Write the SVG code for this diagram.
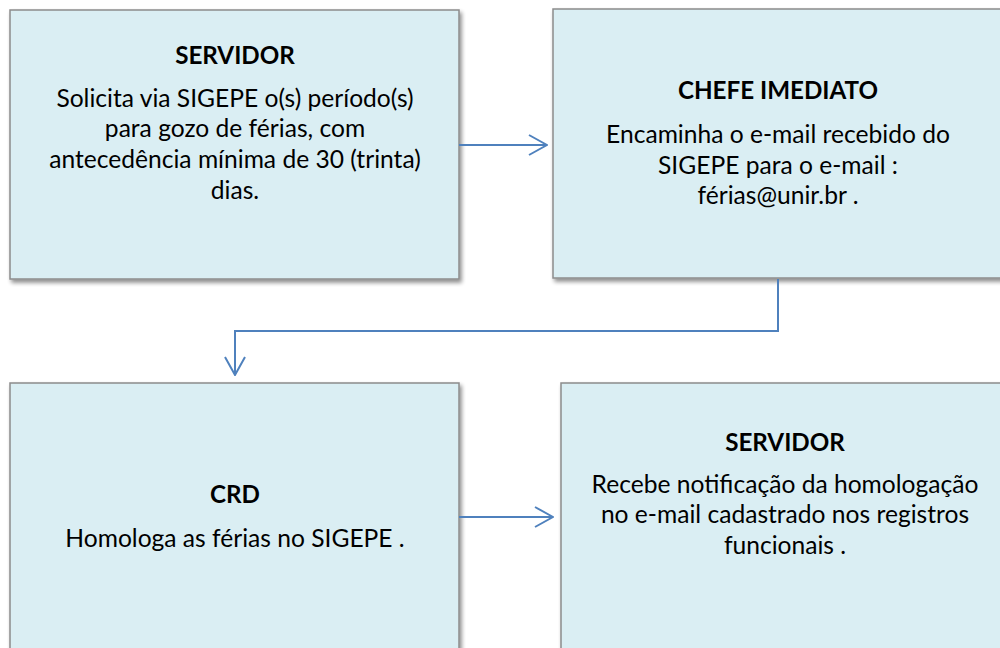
<svg xmlns="http://www.w3.org/2000/svg" width="1000" height="648" viewBox="0 0 1000 648">
<defs>
<filter id="sh" x="-5%" y="-5%" width="115%" height="115%">
<feGaussianBlur in="SourceAlpha" stdDeviation="2"/>
<feOffset dx="2" dy="3" result="o"/>
<feComponentTransfer><feFuncA type="linear" slope="0.45"/></feComponentTransfer>
<feMerge><feMergeNode/><feMergeNode in="SourceGraphic"/></feMerge>
</filter>
<marker id="arr" viewBox="0 0 20 22" refX="19" refY="11" markerWidth="20" markerHeight="22" markerUnits="userSpaceOnUse" orient="auto">
<path d="M1,1 L19,11 L1,21" fill="none" stroke="#4F81BD" stroke-width="2"/>
</marker>
<style>
.box{fill:#DAEEF3;stroke:#8C8C8C;stroke-width:1.5}
.t{font-family:Lato,"Open Sans",sans-serif;font-size:24.6px;fill:#000;text-anchor:middle}
.b{font-weight:bold;font-size:24.2px}
.c{fill:none;stroke:#4F81BD;stroke-width:2}
</style>
</defs>
<rect width="1000" height="648" fill="#fff"/>
<g id="n1">
<rect class="box" x="10" y="10" width="449" height="269" filter="url(#sh)"/>
<text class="t b" x="235" y="64">SERVIDOR</text>
<text class="t" x="235" y="107">Solicita via SIGEPE o(s) período(s)</text>
<text class="t" x="235" y="137">para gozo de férias, com</text>
<text class="t" x="235" y="168">antecedência mínima de 30 (trinta)</text>
<text class="t" x="235" y="199">dias.</text>
</g>
<g id="n2">
<rect class="box" x="553" y="9" width="450" height="269" filter="url(#sh)"/>
<text class="t b" x="778" y="99">CHEFE IMEDIATO</text>
<text class="t" x="778" y="143">Encaminha o e-mail recebido do</text>
<text class="t" x="778" y="174">SIGEPE para o e-mail :</text>
<text class="t" x="778" y="204">férias@unir.br .</text>
</g>
<g id="n3">
<rect class="box" x="10" y="383" width="449" height="280" filter="url(#sh)"/>
<text class="t b" x="235" y="503">CRD</text>
<text class="t" x="235" y="547">Homologa as férias no SIGEPE .</text>
</g>
<g id="n4">
<rect class="box" x="561" y="383" width="450" height="280" filter="url(#sh)"/>
<text class="t b" x="785" y="451">SERVIDOR</text>
<text class="t" x="785" y="493">Recebe notificação da homologação</text>
<text class="t" x="785" y="523">no e-mail cadastrado nos registros</text>
<text class="t" x="785" y="554">funcionais .</text>
</g>
<g id="connectors">
<path class="c" d="M459,145 L547,145" marker-end="url(#arr)"/>
<path class="c" d="M778,279 L778,331 L235,331 L235,375" marker-end="url(#arr)"/>
<path class="c" d="M459,517 L553,517" marker-end="url(#arr)"/>
</g>
</svg>
